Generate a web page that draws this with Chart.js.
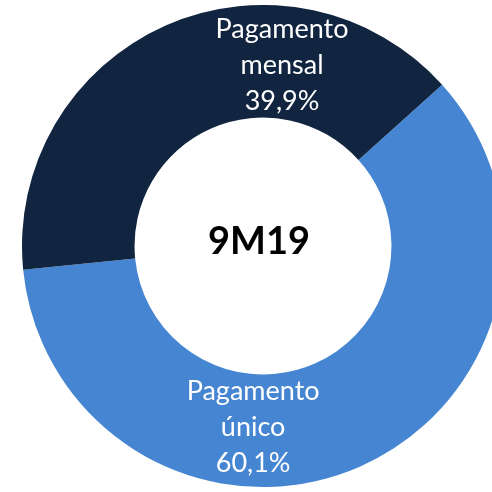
<!DOCTYPE html>
<html>
<head>
<meta charset="utf-8">
<script src="https://cdn.jsdelivr.net/npm/chart.js@4/dist/chart.umd.min.js"></script>
<style>
  html, body { margin: 0; padding: 0; background: #fff; overflow: hidden; width: 492px; height: 492px; }
  #wrap { position: absolute; left: 22px; top: 5px; width: 482px; height: 482px; }
</style>
</head>
<body>
<div id="wrap"><canvas id="myChart" width="482" height="482"></canvas></div>
<script>
// data
var categories = ['Pagamento único', 'Pagamento mensal'];
var shares = [60.1, 39.9];
var colors = ['#4685d2', '#112440'];
var centerTitle = '9M19';

// where each label block sits, as a fraction of the outer radius from the centre
var labelOffsets = [[-0.041, 0.788], [0.079, -0.714]];

var labelPlugin = {
  id: 'sliceLabels',
  afterDraw: function (chart) {
    var ctx = chart.ctx;
    var arc = chart.getDatasetMeta(0).data[0];
    var cx = arc.x, cy = arc.y, r = arc.outerRadius;

    ctx.save();
    ctx.textAlign = 'center';
    ctx.textBaseline = 'alphabetic';
    ctx.fillStyle = '#ffffff';
    ctx.font = '27px Lato';
    categories.forEach(function (cat, i) {
      var words = cat.split(' ');
      var lines = [words[0], words.slice(1).join(' '), shares[i].toFixed(1).replace('.', ',') + '%'];
      var x = cx + labelOffsets[i][0] * r;
      var y = cy + labelOffsets[i][1] * r;
      lines.forEach(function (t, k) {
        ctx.fillText(t, x, y + (k - 1) * 36);
      });
    });

    // centre title
    ctx.fillStyle = '#000000';
    ctx.font = 'bold 38px Lato';
    ctx.fillText(centerTitle, cx - 4, cy + 8);
    ctx.restore();
  }
};

var ctx = document.getElementById('myChart').getContext('2d');
var chart = new Chart(ctx, {
  type: 'doughnut',
  data: {
    labels: categories,
    datasets: [{
      data: shares,
      backgroundColor: colors,
      borderWidth: 0
    }]
  },
  options: {
    responsive: false,
    animation: false,
    rotation: 48,
    cutout: '53.3%',
    layout: { padding: 0 },
    plugins: {
      legend: { display: false },
      tooltip: { enabled: false }
    }
  },
  plugins: [labelPlugin]
});
</script>
</body>
</html>
